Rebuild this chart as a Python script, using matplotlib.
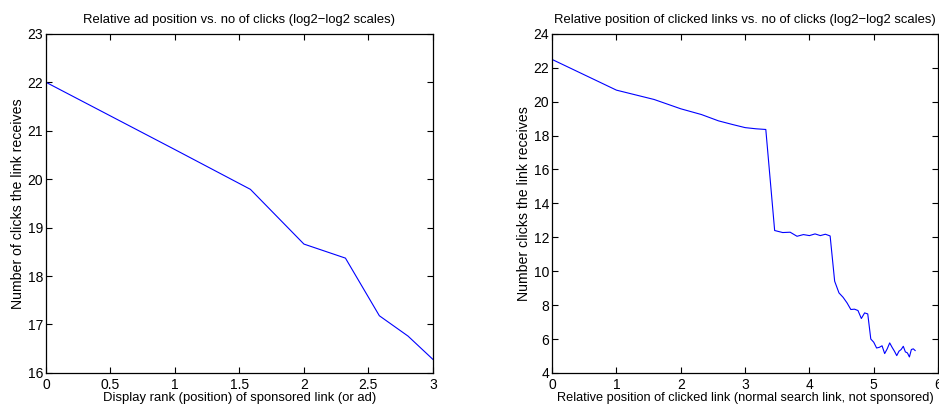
import numpy as np
import matplotlib.pyplot as plt

# ad rank 1..8 on log2 scale
ad_rank = [1, 2, 3, 4, 5, 6, 7, 8]
ad_clicks_log2 = [22.0, 20.61, 19.79, 18.66, 18.37, 17.18, 16.76, 16.28]

# organic link position 1..50 on log2 scale
link_rank = list(range(1, 51))
link_clicks_log2 = [
    22.49, 20.68, 20.13, 19.58, 19.24, 18.87, 18.65, 18.47, 18.40, 18.36,
    12.40, 12.28, 12.30, 12.06, 12.16, 12.10, 12.20, 12.10, 12.18, 12.08,
    9.41, 8.72, 8.46, 8.13, 7.74, 7.76, 7.68, 7.21, 7.54, 7.48,
    6.00, 5.81, 5.47, 5.51, 5.60, 5.14, 5.42, 5.77, 5.51, 5.28,
    5.02, 5.28, 5.38, 5.57, 5.24, 5.18, 4.94, 5.38, 5.42, 5.32,
]

plt.rcParams['font.family'] = ['Liberation Sans', 'DejaVu Sans']
plt.rcParams['font.size'] = 10

fig = plt.figure(figsize=(9.39, 4.08), dpi=100)
ax1 = fig.add_axes([0.049, 0.086, 0.412, 0.831])
ax2 = fig.add_axes([0.588, 0.086, 0.411, 0.831])


def matlab_style(ax):
    ax.tick_params(direction='in', top=True, right=True, length=4, width=0.8,
                   labelsize=10, pad=2)
    ax.tick_params(axis='x', pad=4)
    for s in ax.spines.values():
        s.set_linewidth(0.9)


ax1.plot(np.log2(ad_rank), ad_clicks_log2, color='blue', lw=0.8)
ax1.set_xlim(0, 3)
ax1.set_ylim(16, 23)
ax1.set_xticks([0, 0.5, 1, 1.5, 2, 2.5, 3])
ax1.set_xticklabels(['0', '0.5', '1', '1.5', '2', '2.5', '3'])
ax1.set_title('Relative ad position vs. no of clicks (log2\u2212log2 scales)', fontsize=9.35, pad=8)
ax1.set_xlabel('Display rank (position) of sponsored link (or ad)', fontsize=9.4, labelpad=0)
ax1.set_ylabel('Number of clicks the link receives', fontsize=10.2, labelpad=2)
matlab_style(ax1)

ax2.plot(np.log2(link_rank), link_clicks_log2, color='blue', lw=0.8)
ax2.set_xlim(0, 6)
ax2.set_ylim(4, 24)
ax2.set_xticks(range(0, 7))
ax2.set_yticks(range(4, 25, 2))
ax2.set_title('Relative position of clicked links vs. no of clicks (log2\u2212log2 scales)', fontsize=9.35, pad=8)
ax2.set_xlabel('Relative position of clicked link (normal search link, not sponsored)', fontsize=9.2, labelpad=0)
ax2.set_ylabel('Number clicks the link receives', fontsize=10.2, labelpad=2)
matlab_style(ax2)

fig.savefig('out.png', dpi=100)
